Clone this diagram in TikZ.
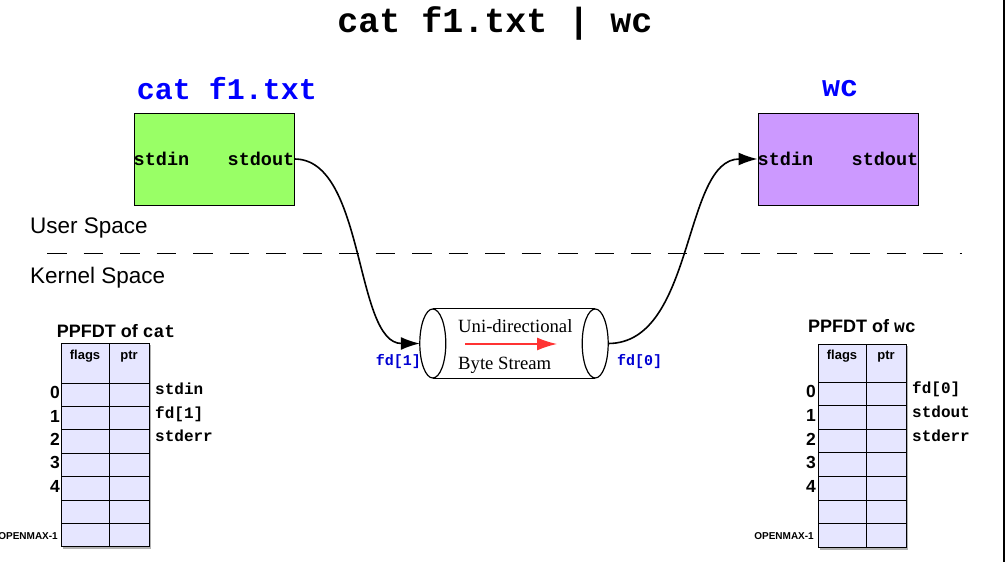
\documentclass[tikz,border=0pt]{standalone}
\usepackage{fontspec}
\setmainfont{Liberation Serif}
\setsansfont{Liberation Sans}
\setmonofont{Liberation Mono}
\usetikzlibrary{arrows.meta, positioning}
\definecolor{catcolor}{RGB}{153, 255, 102}
\definecolor{wccolor}{RGB}{204, 153, 255}
\definecolor{cellcolor}{RGB}{230, 230, 255}
\definecolor{cmdblue}{RGB}{0, 0, 255}
\definecolor{fdblue}{RGB}{0, 0, 210}
\definecolor{flowred}{RGB}{255, 51, 51}
\tikzstyle{process} = [rectangle, minimum width=160, minimum height=92,
                       draw=black, line width=1pt, inner sep=0]
\tikzstyle{port} = [inner sep=0, font=\fontsize{18.5}{20}\selectfont\ttfamily\bfseries]
\tikzstyle{cmd} = [inner sep=0, anchor=base, text=cmdblue,
                   font=\fontsize{30}{32}\selectfont\ttfamily\bfseries]
\tikzstyle{arrow} = [line width=1.6pt, -{Latex[length=19pt, width=13pt]}]
\tikzstyle{flow} = [flowred, line width=1.4pt, -{Latex[length=20pt, width=13pt]}]
\tikzstyle{spacelabel} = [inner sep=0, anchor=base west,
                          font=\fontsize{22.5}{24}\selectfont\sffamily]
\tikzstyle{fd} = [inner sep=0, text=fdblue, font=\fontsize{15}{16}\selectfont\ttfamily\bfseries]
\tikzstyle{pipetext} = [inner sep=0, anchor=base west, font=\fontsize{18.7}{20}\selectfont]
\tikzstyle{cell} = [draw=black, fill=cellcolor, line width=0.9pt]
\tikzstyle{head} = [inner sep=0, anchor=base, font=\fontsize{13}{14}\selectfont\sffamily\bfseries]
\tikzstyle{tabletitle} = [inner sep=0, anchor=base, font=\fontsize{18}{20}\selectfont\sffamily\bfseries]
\tikzstyle{index} = [inner sep=0, anchor=base east, font=\fontsize{17.5}{18}\selectfont\sffamily\bfseries]
\tikzstyle{maxindex} = [index, font=\fontsize{10}{11}\selectfont\sffamily\bfseries]
\tikzstyle{entry} = [inner sep=0, anchor=base west, font=\fontsize{16}{17}\selectfont\ttfamily\bfseries]

\begin{document}
\begin{tikzpicture}[x=1pt, y=-1pt]
        \useasboundingbox (0,0) rectangle (1005,562);

        \node (title) [cmd, text=black, font=\fontsize{35}{36}\selectfont\ttfamily\bfseries] at (495,32) {cat f1.txt | wc};

        % the two processes
        \node (cat) [process, fill=catcolor] at (214,159) {};
        \node (wc) [process, fill=wccolor] at (838,159) {};
        \node (catname) [cmd] at (227,99) {cat f1.txt};
        \node (wcname) [cmd] at (840,96) {wc};
        \node (catin) [port, anchor=west] at (cat.west) {stdin};
        \node (catout) [port, anchor=east] at (cat.east) {stdout};
        \node (wcin) [port, anchor=west] at (wc.west) {stdin};
        \node (wcout) [port, anchor=east] at (wc.east) {stdout};

        % user / kernel split
        \node (user) [spacelabel] at (30,233) {User Space};
        \node (kernel) [spacelabel] at (30,283) {Kernel Space};
        \coordinate (splitstart) at (47,253);
        \coordinate (splitend) at (962,253);
        \draw [dash pattern=on 19.5pt off 17pt, line width=1pt] (splitstart) -- (splitend);

        % the pipe
        \node (pipe) [minimum width=162, minimum height=69, inner sep=0] at (514,343.5) {};
        \fill [white] (pipe.north west) rectangle (pipe.south east);
        \draw [line width=1.2pt] (pipe.north west) -- (pipe.north east);
        \draw [line width=1.2pt] (pipe.south west) -- (pipe.south east);
        \draw [line width=1.2pt, fill=white] (pipe.west) ellipse [x radius=13, y radius=34.5];
        \draw [line width=1.2pt, fill=white] (pipe.east) ellipse [x radius=13, y radius=34.5];
        \coordinate (pipein) at ([xshift=-13]pipe.west);
        \coordinate (pipeout) at ([xshift=13]pipe.east);
        \node (uni) [pipetext] at (458,332) {Uni-directional};
        \node (byte) [pipetext] at (458,369) {Byte Stream};
        \coordinate (flowstart) at (465,344);
        \coordinate (flowend) at (557,344);
        \draw [flow] (flowstart) -- (flowend);
        \node (fdone) [fd, anchor=base east] at (421,365) {fd[1]};
        \node (fdzero) [fd, anchor=base west] at (617,365) {fd[0]};

        \draw [arrow] (catout.east) .. controls +(71,0) and +(-65.5,0) .. (pipein);
        \draw [arrow] (pipeout) .. controls +(87,0) and +(-75,0) .. (wcin.west);

        % PPFDT of cat
        \node (cattable) [tabletitle] at (116,337) {PPFDT of \texttt{cat}};
        \fill [gray!60] (63,345) rectangle (151,549);
        \draw [cell] (61,343) rectangle (109,383);
        \draw [cell] (109,343) rectangle (149,383);
        \foreach \r in {0,...,6} {
            \draw [cell] (61,{383+23.4*\r}) rectangle (109,{406.4+23.4*\r});
            \draw [cell] (109,{383+23.4*\r}) rectangle (149,{406.4+23.4*\r});
        }
        \node (catflags) [head] at (85,359) {flags};
        \node (catptr) [head] at (129,359) {ptr};
        \foreach \r in {0,...,4}
            \node (catidx\r) [index] at (60,{398.7+23.4*\r}) {\r};
        \node (catmax) [maxindex] at (58,539) {OPENMAX-1};
        \node (catfd0) [entry] at (155,394.5) {stdin};
        \node (catfd1) [entry] at (155,418) {fd[1]};
        \node (catfd2) [entry] at (155,441.5) {stderr};

        % PPFDT of wc
        \node (wctable) [tabletitle] at (862,332) {PPFDT of \texttt{wc}};
        \fill [gray!60] (820,346) rectangle (908,550);
        \draw [cell] (818,344) rectangle (866,382);
        \draw [cell] (866,344) rectangle (906,382);
        \foreach \r in {0,...,6} {
            \draw [cell] (818,{382+23.6*\r}) rectangle (866,{405.6+23.6*\r});
            \draw [cell] (866,{382+23.6*\r}) rectangle (906,{405.6+23.6*\r});
        }
        \node (wcflags) [head] at (842,359) {flags};
        \node (wcptr) [head] at (886,359) {ptr};
        \foreach \r in {0,...,4}
            \node (wcidx\r) [index] at (816,{397.8+23.6*\r}) {\r};
        \node (wcmax) [maxindex] at (814,539) {OPENMAX-1};
        \node (wcfd0) [entry] at (912,393.8) {fd[0]};
        \node (wcfd1) [entry] at (912,417.4) {stdout};
        \node (wcfd2) [entry] at (912,441) {stderr};

        \draw [line width=2pt] (1004,0) -- (1004,562);

    \end{tikzpicture}
\end{document}
